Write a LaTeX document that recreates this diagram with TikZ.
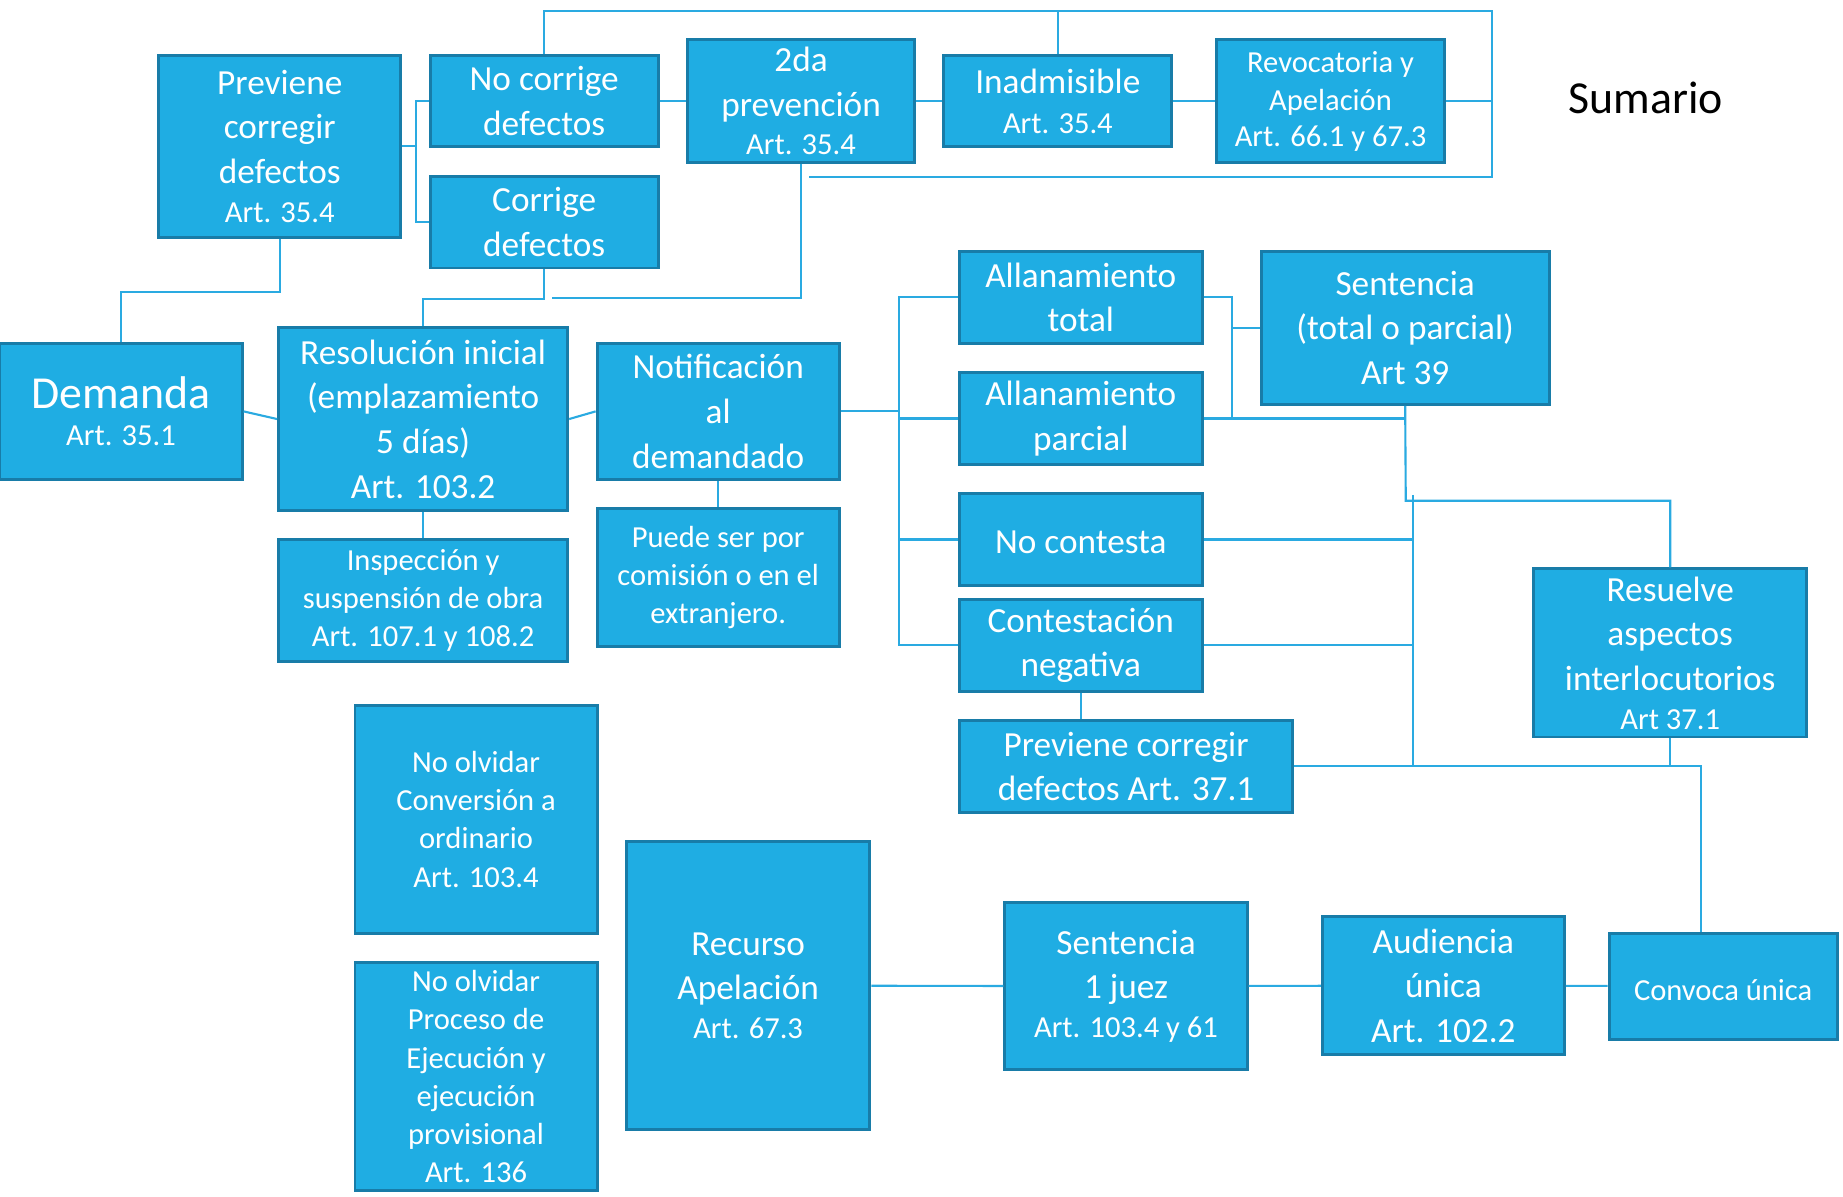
\documentclass[tikz,border=0pt]{standalone}
\usepackage{fontspec}
\setmainfont{Carlito}
\usetikzlibrary{positioning}
\definecolor{boxfill}{RGB}{31,173,227}
\definecolor{boxedge}{RGB}{24,124,168}
\definecolor{linkblue}{RGB}{42,170,225}
\newcommand\fmain{\fontsize{30}{38}\selectfont}
\newcommand\fsml{\fontsize{26}{32.5}\selectfont}
\newcommand\fbig{\fontsize{39}{44}\selectfont}
\tikzset{%
  box/.style={draw=boxedge,fill=boxfill,line width=2.5pt,text=white,align=center,inner sep=0pt,font=\fmain,
    execute at begin node={\rule{0pt}{24pt}}},
  sz/.style 2 args={minimum width=#1pt,minimum height=#2pt},
  fine/.style={font=\fsml},
  link/.style={draw=linkblue,line width=1.8pt}
}

\begin{document}
\begin{tikzpicture}[x=1pt,y=-1pt]
  \useasboundingbox (0,0) rectangle (1568,1018);

  \node [box,sz={206}{155}] (prev) at (238,124.5) {Previene\\corregir\\defectos\\[-5pt]{\fsml Art. 35.4}};
  \node [box,sz={194}{78}] (nocor) at (463,86) {No corrige\\defectos};
  \node [box,sz={194}{78},below=22.5pt of nocor] (cor) {Corrige\\defectos};
  \node [box,sz={193}{104}] (seg) at (681.5,86) {2da\\prevención\\[-5pt]{\fsml Art. 35.4}};
  \node [box,sz={194}{78}] (inad) at (900,86) {Inadmisible\\[-4pt]{\fsml Art. 35.4}};
  \node [box,fine,sz={194}{104}] (revoc) at (1132,86) {Revocatoria y\\Apelación\\[-2pt]Art. 66.1 y 67.3};
  \node [font=\fbig] (ttl) at (1400,83) {Sumario};

  \node [box,sz={206}{116}] (dem) at (103,350) {{\fbig Demanda}\\[-6pt]{\fsml Art. 35.1}};
  \node [box,sz={246}{155}] (res) at (360,356.5) {Resolución inicial\\(emplazamiento\\5 días)\\Art. 103.2};
  \node [box,sz={206}{116}] (notif) at (611,350) {Notificación\\al\\demandado};
  \node [box,fine,sz={246}{104},below=22.5pt of res] (insp) {Inspección y\\suspensión de obra\\Art. 107.1 y 108.2};
  \node [box,fine,sz={206}{117},below=22.5pt of notif] (puede) {Puede ser por\\comisión o en el\\extranjero.};

  \node [box,sz={207}{78}] (alt) at (919.5,253) {Allanamiento\\total};
  \node [box,sz={207}{78},below=22.5pt of alt] (alp) {Allanamiento\\parcial};
  \node [box,sz={207}{78},below=22.5pt of alp] (noc) {No contesta};
  \node [box,sz={207}{78},below=9.5pt of noc] (cneg) {Contestación\\negativa};
  \node [box,sz={284}{78}] (prev2) at (958,652) {Previene corregir\\defectos Art. 37.1};
  \node [box,sz={245}{130}] (sent) at (1195.5,279) {Sentencia\\(total o parcial)\\Art 39};
  \node [box,sz={232}{143}] (resu) at (1421,555.5) {Resuelve\\aspectos\\interlocutorios\\[-5pt]{\fsml Art 37.1}};

  \node [box,fine,sz={206}{194}] (olv1) at (405,697) {No olvidar\\Conversión a\\ordinario\\Art. 103.4};
  \node [box,fine,sz={206}{194}] (olv2) at (405,916) {No olvidar\\Proceso de\\Ejecución y\\ejecución\\provisional\\Art. 136};
  \node [box,sz={207}{245}] (recu) at (636.5,838.5) {Recurso\\Apelación\\[-5pt]{\fsml Art. 67.3}};
  \node [box,sz={206}{142}] (sent1) at (958,839) {Sentencia\\1 juez\\[-5pt]{\fsml Art. 103.4 y 61}};
  \node [box,sz={206}{117}] (aud) at (1228,838.5) {Audiencia\\única\\Art. 102.2};
  \node [box,fine,sz={194}{90}] (conv) at (1466,839) {Convoca única};

  \coordinate (pb) at (354,124.5);
  \coordinate (tr) at (1269,9);
  \coordinate (br) at (1269,150.5);
  \coordinate (bl) at (688,150.5);
  \coordinate (sl) at (470,253.5);
  \coordinate (nb) at (765,350);
  \coordinate (sb) at (1048,279);
  \coordinate (sj) at (1196,426);
  \coordinate (vb) at (1202,421);
  \coordinate (cv) at (1447,652);

  \draw [link] (prev.south) -- ++(0,45) -| (dem.north);
  \draw [link] (prev.east) -- (pb);
  \draw [link] (nocor.west) -| (pb) |- (cor.west);
  \draw [link] (nocor) -- (seg);
  \draw [link] (seg) -- (inad);
  \draw [link] (inad) -- (revoc);
  \draw [link] (nocor.north) |- (tr) -- (br) -- (bl);
  \draw [link] (inad.north) -- (inad.north |- tr);
  \draw [link] (revoc.east) -- (revoc.east -| tr);
  \draw [link] (seg.south) |- (sl);
  \draw [link] (cor.south) -- ++(0,25.5) -| (res.north);

  \draw [link] (dem.east) -- (res.west);
  \draw [link] (res.east) -- (notif.west);
  \draw [link] (res) -- (insp);
  \draw [link] (notif) -- (puede);

  \draw [link] (notif.east) -- (nb);
  \draw [link] (alt.west) -- (alt.west -| nb) -- (cneg.west -| nb) -- (cneg.west);
  \draw [link] (alp.west) -- (alp.west -| nb);
  \draw [link] (noc.west) -- (noc.west -| nb);

  \draw [link] (alt.east) -| (sb |- alp.east);
  \draw [link] (sb) -- (sent.west);
  \draw [link] (alp.east) -- (alp.east -| sent.south);
  \draw [link] (sent.south) -- (sj) -| (resu.north);
  \draw [link] (vb) -- (vb |- prev2.east);
  \draw [link] (noc.east) -- (noc.east -| vb);
  \draw [link] (cneg.east) -- (cneg.east -| vb);
  \draw [link] (cneg.south) -- (cneg.south |- prev2.north);
  \draw [link] (prev2.east) -- (cv) -- (cv |- conv.north);
  \draw [link] (resu.south) -- (resu.south |- cv);

  \draw [link] (recu) -- (sent1);
  \draw [link] (sent1) -- (aud);
  \draw [link] (aud) -- (conv);
\end{tikzpicture}
\end{document}
